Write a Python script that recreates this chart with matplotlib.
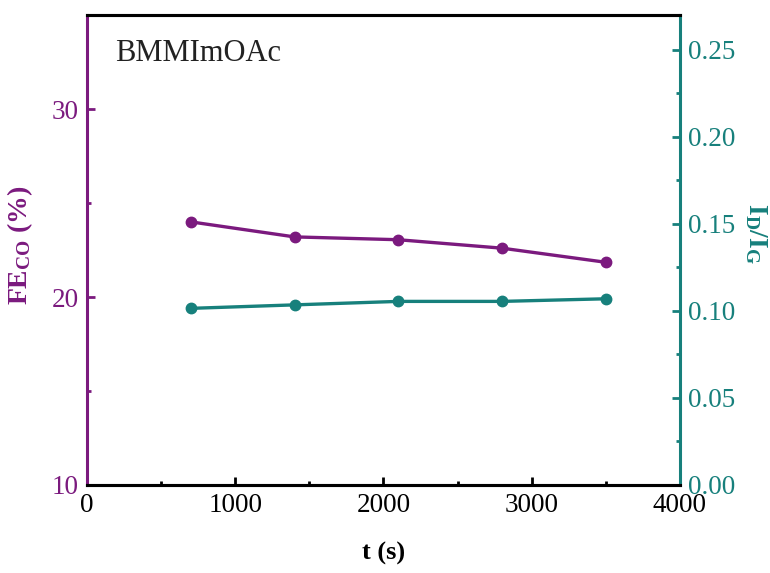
import matplotlib
matplotlib.use("Agg")
import matplotlib.pyplot as plt
from matplotlib.ticker import MultipleLocator, FormatStrFormatter

t_s = [700, 1400, 2100, 2800, 3500]
fe_co = [24.0, 23.2, 23.05, 22.6, 21.85]
id_ig = [0.1015, 0.1035, 0.1055, 0.1055, 0.107]

purple = "#7B1A7E"
teal = "#17807C"

plt.rcParams['font.family'] = ['Liberation Serif', 'DejaVu Serif']
plt.rcParams['mathtext.fontset'] = 'custom'
plt.rcParams['mathtext.rm'] = 'Liberation Serif'
plt.rcParams['mathtext.bf'] = 'Liberation Serif:bold'

fig = plt.figure(figsize=(7.7, 5.73), dpi=100)
ax = fig.add_axes([0.113, 0.1536, 0.77, 0.82])
ax2 = ax.twinx()

ax.plot(t_s, fe_co, color=purple, lw=2.4, marker='o', ms=7.5,
        markerfacecolor=purple, markeredgecolor=purple, zorder=3)
ax2.plot(t_s, id_ig, color=teal, lw=2.4, marker='o', ms=7.5,
         markerfacecolor=teal, markeredgecolor=teal, zorder=3)

ax.set_xlim(0, 4000)
ax.set_ylim(10, 35)
ax2.set_ylim(0, 0.27)

ax.xaxis.set_major_locator(MultipleLocator(1000))
ax.xaxis.set_minor_locator(MultipleLocator(500))
ax.yaxis.set_major_locator(MultipleLocator(10))
ax.yaxis.set_minor_locator(MultipleLocator(5))
ax2.yaxis.set_major_locator(MultipleLocator(0.05))
ax2.yaxis.set_minor_locator(MultipleLocator(0.025))
ax2.yaxis.set_major_formatter(FormatStrFormatter('%.2f'))

for sp in ['top', 'bottom']:
    ax.spines[sp].set_color('black')
    ax.spines[sp].set_linewidth(2.2)
    ax2.spines[sp].set_linewidth(2.2)
ax.spines['left'].set_color(purple)
ax.spines['left'].set_linewidth(2.2)
ax2.spines['left'].set_visible(False)
ax2.spines['right'].set_color(teal)
ax2.spines['right'].set_linewidth(2.2)
ax.spines['right'].set_visible(False)

ax.tick_params(axis='x', which='both', direction='in', colors='black', labelsize=19.5, width=2, pad=6)
ax.tick_params(axis='x', which='major', length=6)
ax.tick_params(axis='x', which='minor', length=3)
ax.tick_params(axis='y', which='both', direction='in', colors=purple, labelsize=19.5, width=2, pad=6)
ax.tick_params(axis='y', which='major', length=6)
ax.tick_params(axis='y', which='minor', length=3)
ax2.tick_params(axis='y', which='both', direction='in', colors=teal, labelsize=19.5, width=2, pad=6)
ax2.tick_params(axis='y', which='major', length=6)
ax2.tick_params(axis='y', which='minor', length=3)

ax.set_xlabel('t (s)', fontsize=19, fontweight='bold')
ax.xaxis.set_label_coords(0.5, -0.145)
ax.xaxis.label.set_va('center')
ax.xaxis.label.set_ha('center')

ax.set_ylabel(r'$\mathbf{FE_{CO}}$ (%)', fontsize=20, fontweight='bold', color=purple)
ax.yaxis.set_label_coords(-0.113, 0.51)
ax.yaxis.label.set_va('center')
ax.yaxis.label.set_ha('center')
ax.yaxis.label.set_rotation_mode('anchor')

ax2.set_ylabel(r'$\mathbf{I_D/I_G}$', fontsize=20, fontweight='bold', color=teal,
               rotation=270)
ax2.yaxis.set_label_coords(1.128, 0.536)
ax2.yaxis.label.set_va('center')
ax2.yaxis.label.set_ha('center')
ax2.yaxis.label.set_rotation_mode('anchor')

ax.text(0.047, 0.919, 'BMMImOAc', transform=ax.transAxes, fontsize=22,
        color='#222222', va='center', ha='left')

fig.savefig('out.png', dpi=100)
